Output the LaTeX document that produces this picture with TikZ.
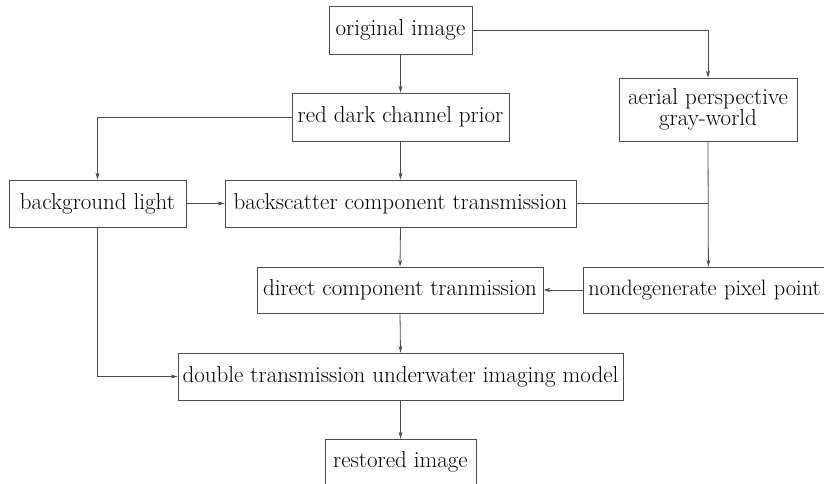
\documentclass[tikz,border=0pt]{standalone}
\usetikzlibrary{arrows.meta}
\begin{document}
\begin{tikzpicture}[x=1pt,y=-1pt,
  box/.style={draw=black!70, line width=0.8pt, inner sep=0pt, align=center, font=\fontsize{23}{21}\selectfont},
  link/.style={draw=black!70, line width=0.8pt},
  arr/.style={link, -{Stealth[length=7pt,width=4pt]}}]
\useasboundingbox (0,0) rectangle (824,484);
\node[box, minimum width=143pt, minimum height=48pt] (orig) at (400.5,30) {original image};
\node[box, minimum width=217pt, minimum height=48pt] (red) at (400.5,117) {red dark channel prior};
\node[box, minimum width=178pt, minimum height=63pt] (aer) at (708,109.5) {aerial perspective\\gray-world};
\node[box, minimum width=177pt, minimum height=47pt] (bg) at (97.5,203.5) {background light};
\node[box, minimum width=351pt, minimum height=47pt] (back) at (400.5,203.5) {backscatter component transmission};
\node[box, minimum width=286pt, minimum height=46pt] (dir) at (400,290) {direct component tranmission};
\node[box, anchor=west, minimum height=46pt, inner xsep=5pt, text width=240pt, align=left, font=\fontsize{22.3}{21}\selectfont] (nd) at (583,290) {nondegenerate pixel point};
\node[box, minimum width=445pt, minimum height=47pt] (dbl) at (400.5,376.5) {double transmission underwater imaging model};
\node[box, minimum width=151pt, minimum height=46pt] (res) at (400.5,462) {restored image};
\coordinate (j) at (aer.south |- back.east);
\draw[arr] (orig.south) -- (red.north);
\draw[arr] (orig.east) -| (aer.north);
\draw[arr] (red.west) -| (bg.north);
\draw[arr] (red.south) -- (back.north);
\draw[arr] (bg.east) -- (back.west);
\draw[arr] (back.south) -- (dir.north);
\draw[link] (back.east) -- (j);
\draw[arr] (aer.south) -- (nd.north);
\draw[arr] (nd.west) -- (dir.east);
\draw[arr] (dir.south) -- (dbl.north);
\draw[arr] (bg.south) |- (dbl.west);
\draw[arr] (dbl.south) -- (res.north);
\end{tikzpicture}
\end{document}
